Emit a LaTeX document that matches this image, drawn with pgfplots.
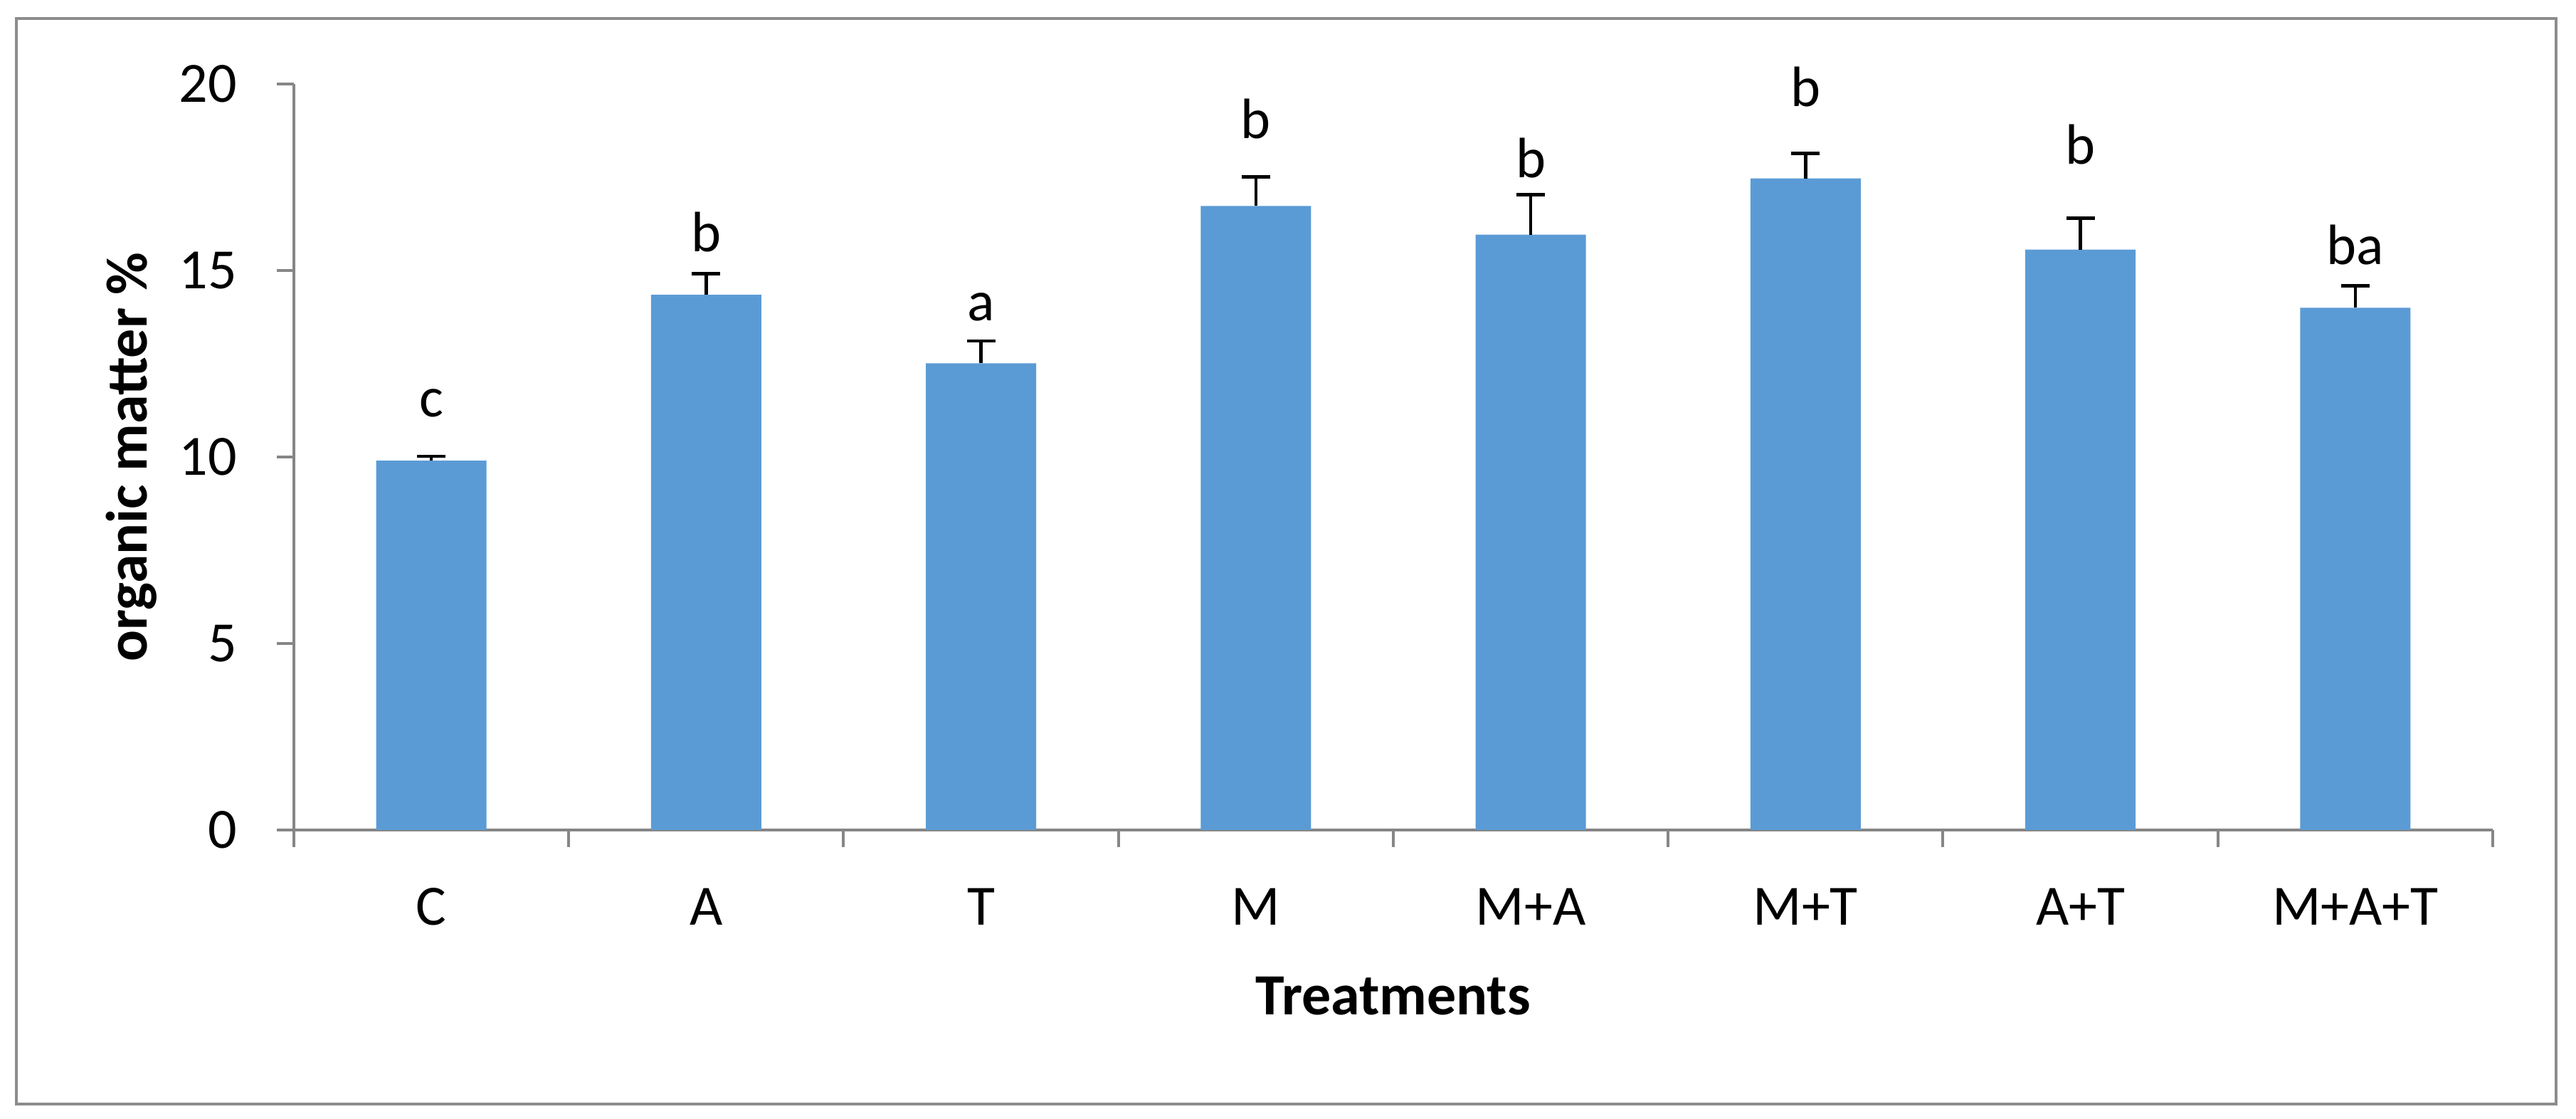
\documentclass[border=0pt]{standalone}
\usepackage{fontspec}
\setmainfont{Carlito}
\usepackage{pgfplots}
\pgfplotsset{compat=1.18}
\definecolor{barblue}{HTML}{5B9BD5}
\definecolor{axisgray}{HTML}{868686}
\definecolor{framegray}{HTML}{8C8C8C}

\begin{document}
\begin{tikzpicture}
% page is 3620x1572 px -> 362pt x 157.2pt
\path (0,0) rectangle (362pt,157.2pt);
\draw[framegray, line width=0.35pt] (2.3pt,2.1pt) rectangle (359.2pt,154.6pt);
\begin{axis}[
    at={(41.3pt,40.6pt)}, anchor=south west,
    scale only axis, width=309pt, height=104.8pt,
    xmin=0.5, xmax=8.5, ymin=0, ymax=20,
    axis x line*=bottom, axis y line*=left,
    axis line style={axisgray, line width=0.4pt, -},
    tick style={axisgray, line width=0.4pt},
    tick align=outside, major tick length=2.4pt,
    ytick={0,5,...,20},
    xtick={0.5,1.5,...,8.5}, xticklabels={},
    extra x ticks={1,...,8},
    extra x tick labels={C,A,T,M,M+A,M+T,A+T,M+A+T},
    extra x tick style={major tick length=0pt},
    xticklabel style={anchor=base, yshift=-13.4pt},
    yticklabel style={anchor=east, inner sep=0pt, xshift=-5.4pt},
    tick label style={font=\fontsize{8}{9.6}\selectfont},
    /pgf/number format/assume math mode=true,
    xlabel={Treatments},
    ylabel={organic matter \%},
    label style={font=\bfseries\fontsize{8.2}{9.8}\selectfont},
    xlabel style={at={(axis description cs:0.5,0)}, anchor=base, yshift=-26pt},
    ylabel style={at={(axis description cs:-0.0667,0.5)}, anchor=base},
]
\addplot[ybar, bar width=15.5pt, fill=barblue, draw=none,
    error bars/.cd, y dir=plus, y explicit,
    error bar style={black, line width=0.45pt},
    error mark options={black, line width=0.45pt, mark size=2pt, rotate=90}]
    coordinates {
    (1,9.90)  +- (0,0.12)
    (2,14.35) +- (0,0.56)
    (3,12.51) +- (0,0.60)
    (4,16.73) +- (0,0.78)
    (5,15.96) +- (0,1.07)
    (6,17.47) +- (0,0.67)
    (7,15.56) +- (0,0.84)
    (8,14.00) +- (0,0.59)
    };
% significance letters
\addplot[draw=none, mark=none, nodes near coords, point meta=explicit symbolic,
    nodes near coords style={anchor=base, font=\fontsize{8}{9.6}\selectfont}]
    coordinates {
    (1,11.07) [c]
    (2,15.50) [b]
    (3,13.65) [a]
    (4,18.54) [b]
    (5,17.49) [b]
    (6,19.40) [b]
    (7,17.86) [b]
    (8,15.16) [ba]
    };
\end{axis}
\end{tikzpicture}
\end{document}
